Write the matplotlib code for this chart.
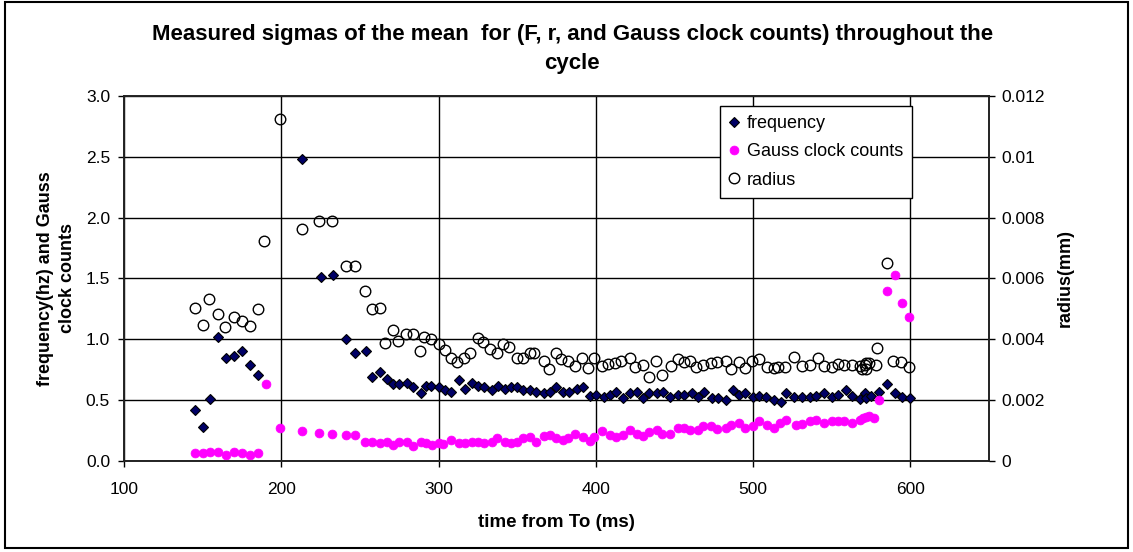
import numpy as np
import matplotlib
matplotlib.use("Agg")
import matplotlib.pyplot as plt
from matplotlib.patches import Rectangle
from matplotlib.lines import Line2D

plt.rcParams['font.family'] = ['Liberation Sans', 'DejaVu Sans']

# frequency sigma (hz) vs time from To (ms)
freq_t = [145, 150, 155, 160, 165, 170, 175, 180, 185, 213, 225, 233, 241, 247,
          254, 258, 263, 267, 271, 275, 280, 284, 289, 292, 295, 300,
          304, 308, 313, 317, 321, 325, 329, 334, 338, 342,
          346, 350, 354, 358, 362, 367, 371, 375, 379, 383,
          388, 392, 396, 400, 405, 409, 413, 417, 422, 426,
          430, 434, 439, 443, 447, 452, 456, 461, 465, 469,
          474, 478, 483, 487, 491, 495, 500, 504, 508, 513,
          518, 521, 526, 531, 536, 540, 545, 550, 554, 559,
          563, 568, 571, 572, 575, 580, 585, 590, 595, 600]
freq = [0.42, 0.28, 0.51, 1.02, 0.85, 0.86, 0.90, 0.79, 0.71, 2.48, 1.51, 1.53, 1.00, 0.885,
        0.90, 0.69, 0.73, 0.67, 0.63, 0.63, 0.64, 0.61, 0.56, 0.62, 0.62, 0.61,
        0.58, 0.565, 0.665, 0.59, 0.645, 0.615, 0.605, 0.585, 0.62, 0.595,
        0.605, 0.605, 0.585, 0.585, 0.565, 0.555, 0.57, 0.605, 0.565, 0.565,
        0.595, 0.605, 0.535, 0.545, 0.53, 0.545, 0.57, 0.52, 0.56, 0.565,
        0.52, 0.555, 0.56, 0.57, 0.53, 0.54, 0.54, 0.555, 0.53, 0.565,
        0.52, 0.52, 0.50, 0.58, 0.54, 0.555, 0.525, 0.535, 0.525, 0.505,
        0.485, 0.555, 0.53, 0.525, 0.525, 0.535, 0.56, 0.525, 0.54, 0.585,
        0.535, 0.51, 0.555, 0.515, 0.535, 0.57, 0.63, 0.56, 0.53, 0.515]

# Gauss clock counts sigma
gauss_t = [145, 150, 155, 160, 165, 170, 175, 180, 185, 190,
           199, 213, 224, 232, 241, 247,
           253, 258, 263, 267, 271, 275, 280, 284, 289, 292,
           296, 300, 303, 308, 313, 317, 321, 325, 329, 334,
           337, 342, 346, 350, 354, 358, 362, 367, 371, 375,
           379, 382, 387, 392, 396, 399, 404, 409, 413, 417,
           422, 426, 430, 434, 439, 442, 447, 452, 456, 460,
           465, 468, 473, 477, 483, 486, 491, 495, 500, 504,
           509, 513, 517, 521, 527, 531, 536, 540, 545, 550,
           554, 558, 563, 568, 570, 572, 574, 577, 580, 585,
           590, 595, 599]
gauss = [0.065, 0.065, 0.075, 0.075, 0.05, 0.075, 0.065, 0.05, 0.065, 0.635,
         0.27, 0.25, 0.23, 0.22, 0.21, 0.21,
         0.16, 0.16, 0.15, 0.155, 0.13, 0.16, 0.16, 0.12, 0.16, 0.15,
         0.135, 0.145, 0.14, 0.17, 0.145, 0.145, 0.16, 0.16, 0.145, 0.16,
         0.19, 0.16, 0.145, 0.16, 0.19, 0.20, 0.16, 0.205, 0.215, 0.19,
         0.17, 0.19, 0.22, 0.20, 0.165, 0.20, 0.245, 0.215, 0.20, 0.21,
         0.255, 0.22, 0.205, 0.24, 0.255, 0.225, 0.225, 0.27, 0.27, 0.255,
         0.255, 0.285, 0.285, 0.26, 0.27, 0.295, 0.315, 0.27, 0.285, 0.325,
         0.295, 0.275, 0.315, 0.34, 0.295, 0.30, 0.33, 0.335, 0.31, 0.325,
         0.33, 0.33, 0.31, 0.335, 0.35, 0.365, 0.37, 0.355, 0.505, 1.40,
         1.53, 1.295, 1.18]

# radius sigma (mm), right axis
radius_t = [145, 150, 154, 160, 164, 170, 175, 180, 185, 189,
            199, 213, 224, 232, 241, 247, 253, 258, 263, 266,
            271, 274, 279, 284, 288, 291, 295, 300, 304, 308,
            312, 316, 320, 325, 328, 333, 337, 341, 345, 350,
            354, 358, 361, 367, 370, 375, 378, 382, 387, 391,
            395, 399, 404, 408, 412, 416, 422, 425, 430, 434,
            438, 442, 448, 452, 456, 460, 464, 468, 473, 477,
            483, 486, 491, 495, 499, 504, 509, 513, 516, 520,
            526, 531, 536, 541, 545, 550, 554, 558, 563, 568,
            569, 571, 572, 572, 574, 578, 579, 585, 589, 594,
            599]
radius = [0.00504, 0.00448, 0.00532, 0.00484, 0.0044, 0.00472, 0.0046, 0.00444, 0.005, 0.00724,
          0.01124, 0.00764, 0.00788, 0.00788, 0.0064, 0.0064, 0.0056, 0.005, 0.00504, 0.00388,
          0.00432, 0.00396, 0.00416, 0.00416, 0.0036, 0.00408, 0.004, 0.00384, 0.00364, 0.00338,
          0.00324, 0.00338, 0.00356, 0.00406, 0.00392, 0.00367, 0.00356, 0.00384, 0.00376, 0.0034,
          0.00338, 0.00354, 0.00356, 0.00329, 0.00301, 0.00354, 0.00334, 0.0033, 0.00312, 0.00338,
          0.00305, 0.00338, 0.00312, 0.00319, 0.00321, 0.00329, 0.00338, 0.00308, 0.00316, 0.00277,
          0.00329, 0.00283, 0.00312, 0.00334, 0.00326, 0.0033, 0.0031, 0.00316, 0.00323, 0.00326,
          0.0033, 0.00301, 0.00326, 0.00305, 0.00329, 0.00334, 0.0031, 0.00307, 0.0031, 0.0031,
          0.00343, 0.00312, 0.00314, 0.00338, 0.00312, 0.0031, 0.00319, 0.00316, 0.00316, 0.00312,
          0.00304, 0.00316, 0.00304, 0.00323, 0.00321, 0.00316, 0.0037, 0.00652, 0.0033, 0.00326,
          0.00308]

x_ticks = [100, 200, 300, 400, 500, 600]
left_ticks = [0.0, 0.5, 1.0, 1.5, 2.0, 2.5, 3.0]
right_ticks = [0, 0.002, 0.004, 0.006, 0.008, 0.01, 0.012]
right_labels = ['0', '0.002', '0.004', '0.006', '0.008', '0.01', '0.012']

fig = plt.figure(figsize=(11.33, 5.52), dpi=100)
ax = fig.add_axes([0.10944, 0.16486, 0.76346, 0.66123])
ax2 = ax.twinx()

diamond_kw = dict(ls='none', marker='D', ms=5.0, mfc='#000066', mec='black', mew=0.8)
pink_kw = dict(ls='none', marker='o', ms=6.4, mfc='#FF00FF', mec='#FF00FF', mew=0.5)
ring_kw = dict(ls='none', marker='o', ms=7.6, mfc='none', mec='black', mew=1.0)

ax.plot(freq_t, freq, zorder=3, **diamond_kw)
ax.plot(gauss_t, gauss, zorder=4, **pink_kw)
ax2.plot(radius_t, radius, zorder=3, **ring_kw)

ax.set_xlim(100, 650)
ax.set_ylim(0, 3.0)
ax2.set_ylim(0, 0.012)
ax.set_xticks(x_ticks)
ax.set_xticklabels([str(v) for v in x_ticks])
ax.set_yticks(left_ticks)
ax.set_yticklabels(['%.1f' % v for v in left_ticks])
ax2.set_yticks(right_ticks)
ax2.set_yticklabels(right_labels)

ax.grid(True, color='black', lw=1.0)
ax.set_axisbelow(True)
for a in (ax, ax2):
    for s in a.spines.values():
        s.set_color('#222222')
        s.set_linewidth(1.2)
ax.tick_params(axis='x', direction='out', length=4, width=1, pad=11, labelsize=12.5)
ax.tick_params(axis='y', direction='out', length=4, width=1, pad=6, labelsize=12.5)
ax2.tick_params(axis='y', direction='out', length=4, width=1, pad=5, labelsize=12.5)

ax.set_xlabel('time from To (ms)', fontsize=13.5, fontweight='bold')
ax.xaxis.set_label_coords(0.5, -0.145)
ax.set_ylabel('frequency(hz) and Gauss\nclock counts', fontsize=13, fontweight='bold',
              linespacing=1.35)
ax.yaxis.set_label_coords(-0.0555, 0.5)
ax2.set_ylabel('radius(mm)', fontsize=13, fontweight='bold', rotation=90)
ax2.yaxis.set_label_coords(1.0786, 0.5)

fig.text(0.505, 0.911,
         'Measured sigmas of the mean  for (F, r, and Gauss clock counts) throughout the\ncycle',
         ha='center', va='center', fontsize=16, fontweight='bold', linespacing=1.5)

handles = [Line2D([], [], **diamond_kw), Line2D([], [], **pink_kw), Line2D([], [], **ring_kw)]
leg = ax2.legend(handles, ['frequency', 'Gauss clock counts', 'radius'],
                 loc='upper left', bbox_to_anchor=(0.689, 0.972), fontsize=13,
                 frameon=True, fancybox=False, framealpha=1, edgecolor='black',
                 handlelength=0.6, handletextpad=0.4, labelspacing=0.62,
                 borderpad=0.5, borderaxespad=0)
leg.get_frame().set_linewidth(1.0)
leg.set_zorder(10)

fig.patches.append(Rectangle((0.0044, 0.0072), 0.9912, 0.989, transform=fig.transFigure,
                             fill=False, ec='black', lw=1.5))

fig.savefig('out.png', dpi=100)
